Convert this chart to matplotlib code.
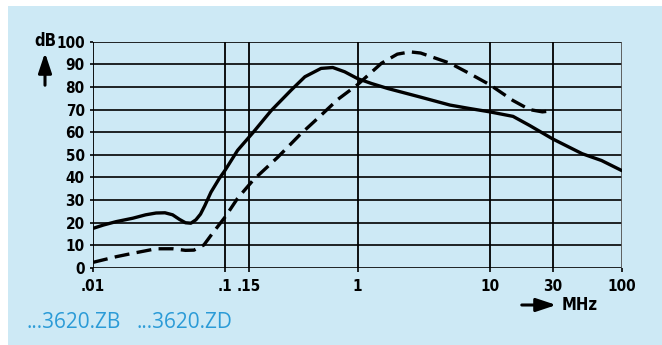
import matplotlib
matplotlib.use("Agg")
import matplotlib.pyplot as plt
from matplotlib.patches import Rectangle, FancyArrowPatch
from matplotlib.ticker import NullLocator
from matplotlib import font_manager as fm

# ---- data ----
zb_freq = [0.01, 0.012, 0.015, 0.02, 0.025, 0.03, 0.035, 0.04, 0.045, 0.05, 0.055,
           0.06, 0.065, 0.07, 0.078, 0.09, 0.1, 0.124, 0.163, 0.222, 0.315,
           0.4, 0.53, 0.65, 0.8, 1.0, 1.28, 1.7, 3.0, 5.0, 7.0, 10.0, 15.0,
           20.0, 30.0, 50.0, 70.0, 100.0]
zb_db = [17.5, 19.0, 20.5, 22.0, 23.5, 24.3, 24.4, 23.5, 21.5, 20.0, 19.8,
         21.3, 23.8, 27.5, 33.5, 39.5, 43.3, 52.0, 60.0, 69.5, 78.6,
         84.5, 88.2, 88.6, 86.7, 83.7, 81.5, 79.3, 75.5, 72.0, 70.5, 69.0, 67.0,
         63.0, 57.0, 50.5, 47.5, 43.0]

zd_freq = [0.01, 0.015, 0.02, 0.03, 0.04, 0.05, 0.058, 0.069, 0.08, 0.1,
           0.124, 0.163, 0.25, 0.364, 0.53, 0.71, 1.0, 1.52, 2.0, 2.5, 3.0, 5.0,
           7.0, 10.0, 15.0, 20.0, 25.0, 30.0]
zd_db = [2.5, 5.0, 6.5, 8.5, 8.5, 7.8, 7.9, 10.2, 15.3, 22.6,
         30.8, 38.9, 49.0, 58.7, 67.5, 74.5, 81.0, 90.5, 94.5, 95.5, 95.0, 90.5,
         86.0, 81.0, 74.0, 70.0, 69.0, 69.5]

x_ticks = [0.01, 0.1, 0.15, 1, 10, 30, 100]
x_labels = [".01", ".1", ".15", "1", "10", "30", "100"]
y_ticks = [0, 10, 20, 30, 40, 50, 60, 70, 80, 90, 100]
y_labels = [str(v) for v in y_ticks]
legend_labels = ["...3620.ZB", "...3620.ZD"]

# ---- fonts ----
names = {f.name for f in fm.fontManager.ttflist}
cond = [n for n in ("Liberation Sans Narrow", "DejaVu Sans Condensed") if n in names]
tick_font = dict(family=cond + ["DejaVu Sans"], weight="bold", size=11,
                 stretch="condensed")
unit_font = dict(tick_font, size=12)

# ---- figure ----
W, H = 662, 345
BG = "#cde9f5"
TXT_BLUE = "#2b9bd7"
fig = plt.figure(figsize=(W / 100, H / 100), dpi=100, facecolor="white")
fig.patches.append(Rectangle((8 / W, 0), 1, 1 - 6 / H, transform=fig.transFigure,
                             facecolor=BG, edgecolor="none", zorder=-10))

left, right, top, bottom = 93, 622, 41.7, 268
ax = fig.add_axes([left / W, 1 - bottom / H, (right - left) / W, (bottom - top) / H])
ax.set_zorder(1)
ax.set_facecolor("none")
ax.set_xscale("log")
ax.set_xlim(0.01, 100)
ax.set_ylim(0, 100)

for v in y_ticks:
    ax.axhline(v, color="black", lw=1.2, zorder=1)
for v in x_ticks:
    ax.axvline(v, color="black" if v != 100 else "#555555", lw=1.3, zorder=1)

for s in ax.spines.values():
    s.set_visible(False)

ax.plot(zb_freq, zb_db, color="black", lw=2.4, solid_capstyle="round", zorder=3)
ax.plot(zd_freq, zd_db, color="black", lw=2.4, dashes=(4.5, 2.2), zorder=3)

ax.set_xticks(x_ticks)
ax.set_xticklabels(x_labels, **tick_font)
ax.xaxis.set_minor_locator(NullLocator())
ax.set_yticks(y_ticks)
ax.set_yticklabels(y_labels, **tick_font)
ax.tick_params(axis="x", length=3, width=1.2, pad=5, direction="out")
ax.tick_params(axis="y", length=2, width=1.2, pad=4, direction="out")

# dB label with up arrow
fig.text(45.5 / W, 1 - 41 / H, "dB", ha="center", va="center", **unit_font)
fig.add_artist(FancyArrowPatch(
    (45 / W, 1 - 88 / H), (45 / W, 1 - 50 / H), transform=fig.transFigure,
    arrowstyle="-|>,head_length=6,head_width=2", color="black", lw=2.2,
    mutation_scale=2))

# MHz label with right arrow
fig.add_artist(FancyArrowPatch(
    (519 / W, 1 - 305 / H), (559 / W, 1 - 305 / H), transform=fig.transFigure,
    arrowstyle="-|>,head_length=6,head_width=2", color="black", lw=2.2,
    mutation_scale=2))
fig.text(562 / W, 1 - 305 / H, "MHz", ha="left", va="center", **unit_font)

# legend-like labels
lab_font = dict(color=TXT_BLUE, fontsize=15, family=["Open Sans", "DejaVu Sans"],
                ha="left", va="center")
fig.text(27 / W, 1 - 323 / H, legend_labels[0], **lab_font)
fig.text(136 / W, 1 - 323 / H, legend_labels[1], **lab_font)

fig.savefig("out.png", dpi=100, facecolor="white")
